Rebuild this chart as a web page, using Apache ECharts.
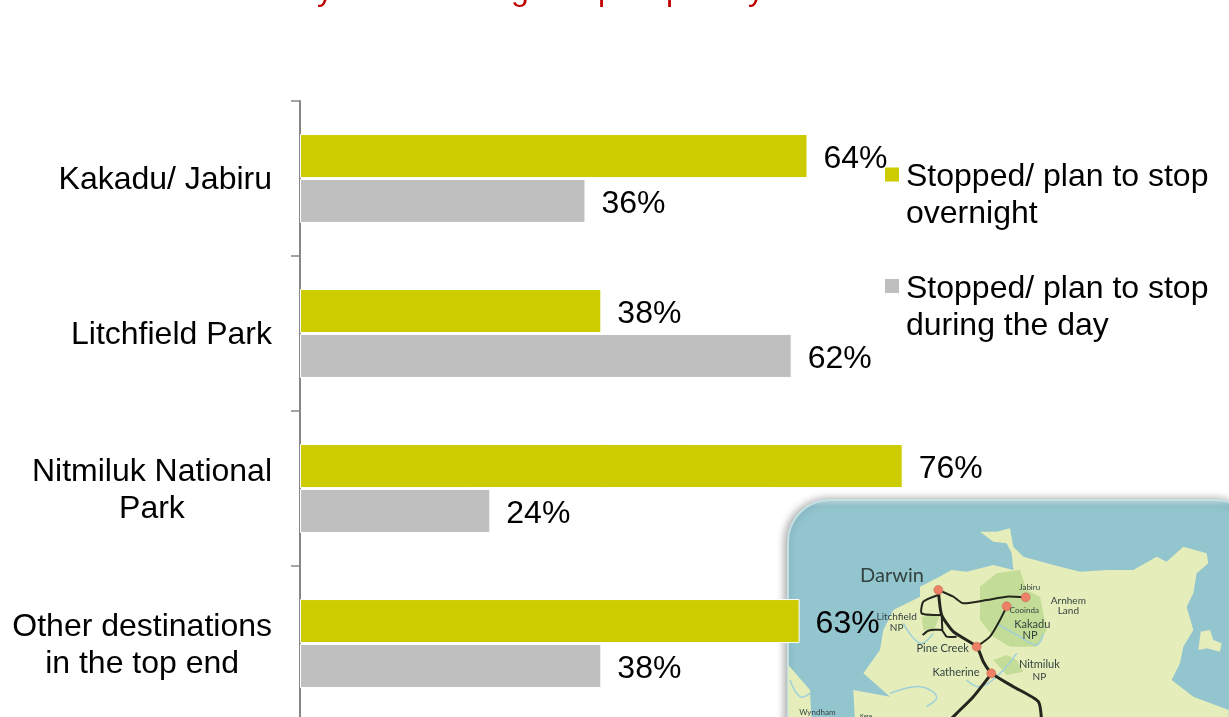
<!DOCTYPE html>
<html>
<head>
<meta charset="utf-8">
<style>
html, body { margin: 0; padding: 0; background: #fff; overflow: hidden; height: 717px; }
/* the plot runs past the bottom of the window, same crop as the reference */
#main { width: 1229px; height: 780px; }
</style>
</head>
<body>
<div id="main"></div>
<script src="https://cdn.jsdelivr.net/npm/echarts@6/dist/echarts.min.js"></script>
<script>
var categories = ['Kakadu/ Jabiru', 'Litchfield Park', 'Nitmiluk National\nPark', 'Other destinations\nin the top end'];
var overnightValues = [64, 38, 76, 63];
var dayValues = [36, 62, 24, 38];
var overnightName = 'Stopped/ plan to stop\novernight';
var dayName = 'Stopped/ plan to stop\nduring the day';

var FONT = '"Liberation Sans", Arial, sans-serif';
var MAP_FONT = 'Lato, "Open Sans", sans-serif';

// map inset (zoomed crop at x 780, y 490, 3x)
function pt(list) {
  return list.map(function(p) { return [780 + p[0] / 3, 490 + p[1] / 3]; });
}
var landOutline = [[25,525],[90,600],[100,800],[230,800],[220,600],[330,620],[250,550],[300,480],[310,420],[340,360],[420,320],[420,290],[470,265],[515,240],[560,245],[640,225],[700,240],[695,190],[680,160],[640,155],[600,125],[650,125],[690,115],[700,170],[730,200],[820,225],[900,245],[980,240],[1060,240],[1130,200],[1160,215],[1210,170],[1280,190],[1285,220],[1250,250],[1240,310],[1220,350],[1240,420],[1210,470],[1200,520],[1175,570],[1240,620],[1346,660],[1346,800],[25,800]];
var islandOutline = [[1262,425],[1290,420],[1300,450],[1325,460],[1320,485],[1280,475],[1255,480]];
var kakaduOutline = [[600,290],[650,250],[720,240],[740,300],[780,320],[800,420],[770,470],[690,470],[640,440],[600,390]];
var nitmilukOutline = [[640,510],[680,495],[710,510],[730,545],[680,555]];
var litchfieldOutline = [[425,380],[480,375],[460,425],[430,420]];
var roads = [
  { w: 3, pts: [[475,300],[485,375],[520,425],[590,470],[610,515],[635,550],[700,590],[775,635],[785,700]] },
  { w: 3, pts: [[635,550],[580,620],[530,670],[500,700]] },
  { w: 2, pts: [[475,300],[520,320],[550,340],[620,330],[680,320],[735,322]] },
  { w: 2, pts: [[590,470],[630,440],[660,390],[680,350]] },
  { w: 2, pts: [[475,315],[430,335],[425,370],[485,375]] },
  { w: 2, pts: [[428,435],[445,422],[485,420],[500,440],[530,440]] },
  { w: 2, pts: [[485,375],[487,420]] }
];
var rivers = [
  [[370,400],[420,460],[460,430]],
  [[650,400],[720,440],[770,465],[790,430]],
  [[560,570],[600,590],[660,550],[710,490]],
  [[30,570],[60,620],[90,610]],
  [[330,610],[420,590],[470,620],[440,650]]
];
var towns = [[475,300],[737,322],[680,349],[590,470],[634,550]];
var mapLabels = [
  { t: 'Darwin', x: 336, y: 258, s: 20 },
  { t: 'Jabiru', x: 749, y: 293, s: 8 },
  { t: 'Arnhem', x: 865, y: 331, s: 10 },
  { t: 'Land', x: 865, y: 361, s: 10 },
  { t: 'Cooinda', x: 733, y: 362, s: 8 },
  { t: 'Litchfield', x: 350, y: 381, s: 10 },
  { t: 'NP', x: 350, y: 413, s: 10 },
  { t: 'Kakadu', x: 757, y: 402, s: 11 },
  { t: 'NP', x: 750, y: 436, s: 11 },
  { t: 'Pine Creek', x: 488, y: 476, s: 11 },
  { t: 'Nitmiluk', x: 778, y: 522, s: 11 },
  { t: 'NP', x: 778, y: 560, s: 10 },
  { t: 'Katherine', x: 528, y: 546, s: 11 },
  { t: 'Wyndham', x: 112, y: 666, s: 8 },
  { t: 'Kere', x: 258, y: 678, s: 6 }
];
// only the descenders of the slide title remain on the crop
var titleTails = [{ t: 'y', x: 325 }, { t: 'g', x: 520 }, { t: 'p', x: 607 }, { t: 'p', x: 675 }, { t: 'y', x: 756 }];

var graphics = [];
function poly(list, fill) {
  graphics.push({ type: 'polygon', silent: true, shape: { points: pt(list) }, style: { fill: fill } });
}
graphics.push({
  type: 'rect', silent: true,
  shape: { x: 788, y: 500, width: 470, height: 300, r: 42 },
  style: {
    fill: new echarts.graphic.LinearGradient(0, 0, 0, 1, [
      { offset: 0, color: '#c9e6e8' },
      { offset: 0.025, color: '#93c5cf' },
      { offset: 1, color: '#93c5cf' }
    ]),
    stroke: '#c4e2e6', lineWidth: 2, shadowBlur: 8, shadowColor: 'rgba(0,0,0,0.35)', shadowOffsetX: -2
  }
});
poly(landOutline, '#e5edbb');
poly(islandOutline, '#e5edbb');
poly(kakaduOutline, '#c3dc97');
poly(nitmilukOutline, '#c3dc97');
poly(litchfieldOutline, '#c3dc97');
rivers.forEach(function(r) {
  graphics.push({ type: 'polyline', silent: true, shape: { points: pt(r), smooth: 0.4 }, style: { stroke: '#9fd0d8', lineWidth: 1.5, fill: null } });
});
roads.forEach(function(r) {
  graphics.push({ type: 'polyline', silent: true, shape: { points: pt(r.pts), smooth: 0.2 }, style: { stroke: '#23261c', lineWidth: r.w, fill: null } });
});
pt(towns).forEach(function(p) {
  graphics.push({ type: 'circle', silent: true, shape: { cx: p[0], cy: p[1], r: 4.5 }, style: { fill: '#ee8066', stroke: '#b9654f', lineWidth: 0.5 } });
});
mapLabels.forEach(function(l) {
  graphics.push({
    type: 'text', silent: true,
    style: {
      text: l.t, x: 780 + l.x / 3, y: 490 + l.y / 3, align: 'center', verticalAlign: 'middle',
      fill: '#33423f', font: 'normal ' + l.s + 'px ' + MAP_FONT
    }
  });
});
titleTails.forEach(function(l) {
  graphics.push({
    type: 'text', silent: true,
    style: { text: l.t, x: l.x, y: -25, align: 'center', verticalAlign: 'top', fill: '#c00000', font: '32px ' + FONT }
  });
});

var myChart = echarts.init(document.getElementById('main'), null, { renderer: 'canvas' });
var barLabel = {
  show: true,
  position: 'right',
  distance: 16,
  offset: [0, 3],
  formatter: '{c}%',
  color: '#000',
  fontFamily: FONT,
  fontSize: 32
};
myChart.setOption({
  animation: false,
  backgroundColor: '#fff',
  graphic: graphics,
  legend: {
    orient: 'vertical',
    left: 885,
    top: 121.5,
    itemGap: 2.5,
    itemWidth: 14,
    itemHeight: 14,
    icon: 'rect',
    selectedMode: false,
    padding: 0,
    itemStyle: { borderWidth: 0 },
    // taller blank first line keeps the marker level with the first text line
    formatter: function(name) {
      var parts = name.split('\n');
      return '{gap| }\n{txt|' + parts[0] + '}\n{txt|' + parts[1] + '}';
    },
    textStyle: {
      padding: [0, 0, 0, 2],
      rich: {
        gap: { fontSize: 32, lineHeight: 43, fontFamily: FONT },
        txt: { color: '#000', fontFamily: FONT, fontSize: 32, lineHeight: 37 }
      }
    },
    data: [overnightName, dayName]
  },
  grid: { left: 300, top: 101, width: 793, height: 620 },
  xAxis: { type: 'value', min: 0, max: 100, show: false },
  yAxis: {
    type: 'category',
    inverse: true,
    data: categories,
    axisLine: { show: true, lineStyle: { color: '#868686', width: 2 } },
    axisTick: { show: true, length: 9, lineStyle: { color: '#868686', width: 1.5 } },
    axisLabel: {
      margin: 28,
      padding: [4, 0, 0, 0],
      color: '#000',
      fontFamily: FONT,
      fontSize: 32,
      lineHeight: 37,
      formatter: function(value) {
        var parts = value.split('\n');
        if (parts.length === 1) return '{line|' + value + '}';
        var style = parts[0].indexOf('Other') === 0 ? 'wideSecond' : 'second';
        return '{line|' + parts[0] + '}\n{' + style + '|' + parts[1] + '}';
      },
      rich: {
        line: { fontFamily: FONT, fontSize: 32, lineHeight: 37, color: '#000' },
        second: { fontFamily: FONT, fontSize: 32, lineHeight: 37, color: '#000', width: 239, align: 'center' },
        wideSecond: { fontFamily: FONT, fontSize: 32, lineHeight: 37, color: '#000', width: 259, align: 'center' }
      }
    }
  },
  series: [
    {
      name: overnightName,
      type: 'bar',
      data: overnightValues,
      barWidth: 44,
      barGap: '2%',
      itemStyle: { color: '#cccc00', borderColor: '#fff', borderWidth: 1 },
      label: barLabel
    },
    {
      name: dayName,
      type: 'bar',
      data: dayValues,
      barWidth: 44,
      itemStyle: { color: '#bfbfbf', borderColor: '#fff', borderWidth: 1 },
      label: barLabel
    }
  ]
});
window.addEventListener('resize', function() { myChart.resize(); });
</script>
</body>
</html>
